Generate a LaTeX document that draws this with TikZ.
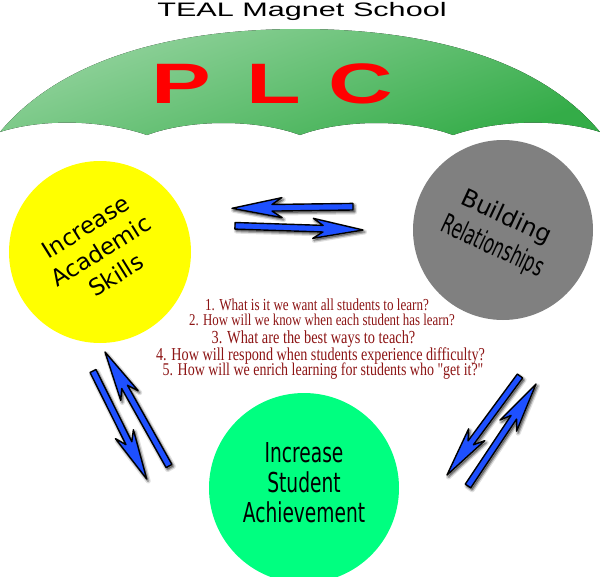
\documentclass[tikz,border=0pt]{standalone}
\usepackage{fontspec}
\setmainfont{Liberation Serif}
\newfontfamily\dvs{DejaVu Sans}
\newfontfamily\dvsnarrow[FakeStretch=0.68]{DejaVu Sans}
\newfontfamily\dvsrel[FakeStretch=0.61]{DejaVu Sans}
\newfontfamily\qfont[FakeStretch=0.78]{Liberation Serif}
\newfontfamily\widesans[FakeStretch=1.57]{Liberation Sans}
\usetikzlibrary{calc}
\definecolor{umbLight}{RGB}{150,212,160}
\definecolor{umbDark}{RGB}{52,172,72}
\definecolor{arrowblue}{RGB}{30,80,255}
\definecolor{yellowc}{RGB}{255,255,0}
\definecolor{grayc}{RGB}{128,128,128}
\definecolor{greenc}{RGB}{0,255,128}
\definecolor{qred}{RGB}{140,20,20}
\tikzset{
  arrowbody/.style={fill=arrowblue, draw=black, line width=1.4pt, line join=round},
  shadowwide/.style={fill=black, draw=black, opacity=0.12, line width=5pt, line join=round,
    transform canvas={shift={(1.5pt,-2pt)}}},
  shadownarrow/.style={fill=black, draw=black, opacity=0.25, line width=2.5pt, line join=round,
    transform canvas={shift={(1.5pt,-2pt)}}},
  question/.style={text=qred, anchor=base, inner sep=0pt},
  disc/.style={circle, inner sep=0pt},
  plcletter/.style={font=\widesans\bfseries\fontsize{57}{57}\selectfont, text=red, anchor=base, inner sep=0pt},
}
\newcommand\arrowpath[2]{($(#1)!3.3pt!90:(#2)$) -- ($(n)!3.3pt!90:(#2)$) -- ($(h)!10pt!90:(#2)$) -- (#2) -- ($(h)!10pt!-90:(#2)$) -- ($(n)!3.3pt!-90:(#2)$) -- ($(#1)!3.3pt!-90:(#2)$) -- cycle}
\newcommand\fatarrow[2]{%
  \coordinate (h) at ($(#2)!50pt!(#1)$);
  \coordinate (n) at ($(#2)!40pt!(#1)$);
  \path[shadowwide] \arrowpath{#1}{#2};
  \path[shadownarrow] \arrowpath{#1}{#2};
  \path[arrowbody] \arrowpath{#1}{#2};
}
\begin{document}
\begin{tikzpicture}[x=1pt,y=-1pt]
\useasboundingbox (0,0) rectangle (600,576);
\clip (0,0) rectangle (600,576);

% circles
\node[disc, fill=yellowc, minimum size=182pt] (skills) at (100,252) {};
\node[disc, fill=grayc, minimum size=180pt] (rel) at (503,230) {};
\node[disc, fill=greenc, minimum size=190pt] (ach) at (304,488) {};

\node[rotate=32, align=center, font=\dvs\fontsize{23}{28.5}\selectfont] (skillstext) at (101,251) {Increase\\Academic\\Skills};
\node[rotate=-25, align=center, font=\dvs\fontsize{24}{33}\selectfont] (reltext) at (499,233) {{\dvs Building}\\{\dvsrel\fontsize{27}{33}\selectfont Relationships}};
\node[align=center, font=\dvsnarrow\fontsize{27.4}{30}\selectfont] (achtext) at (304,483) {Increase\\Student\\Achievement};

% umbrella
\fill[top color=umbLight, bottom color=umbDark, shading angle=20]
  (0,132) .. controls (60,60) and (170,29) .. (300,29)
  .. controls (430,29) and (540,60) .. (600,132)
  .. controls (560,119) and (500,119) .. (453,135)
  .. controls (410,119) and (343,119) .. (300,135)
  .. controls (257,119) and (190,119) .. (147,135)
  .. controls (100,119) and (40,119) .. (0,132) -- cycle;

\node[font=\widesans\fontsize{19.5}{20}\selectfont, anchor=base, inner sep=0pt] (title) at (302,16.7) {TEAL Magnet School};
\node[plcletter] (p) at (181,103.5) {P};
\node[plcletter] (l) at (273.5,103.5) {L};
\node[plcletter] (c) at (360.5,103.5) {C};

% questions
\node[question, font=\qfont\fontsize{16.8}{17}\selectfont] (q1) at (317,310) {1. What is it we want all students to learn?};
\node[question, font=\qfont\fontsize{16.5}{17}\selectfont] (q2) at (322,325.7) {2. How will we know when each student has learn?};
\node[question, font=\qfont\fontsize{18.4}{18}\selectfont] (q3) at (313.5,343) {3. What are the best ways to teach?};
\node[question, font=\qfont\fontsize{18.2}{18}\selectfont] (q4) at (320.5,360) {4. How will respond when students experience difficulty?};
\node[question, font=\qfont\fontsize{17.9}{18}\selectfont] (q5) at (323,375.7) {5. How will we enrich learning for students who "get it?"};

% arrows
\coordinate (t1) at (353,206.7); \coordinate (e1) at (232,208.3);
\coordinate (t2) at (235,225.8); \coordinate (e2) at (363,230);
\coordinate (t3) at (93,371);    \coordinate (e3) at (146.7,479);
\coordinate (t4) at (169,466);   \coordinate (e4) at (105,352);
\coordinate (t5) at (520,376);   \coordinate (e5) at (447,475);
\coordinate (t6) at (468,486);   \coordinate (e6) at (536,384);
\fatarrow{t1}{e1}
\fatarrow{t2}{e2}
\fatarrow{t3}{e3}
\fatarrow{t4}{e4}
\fatarrow{t5}{e5}
\fatarrow{t6}{e6}
\end{tikzpicture}
\end{document}
